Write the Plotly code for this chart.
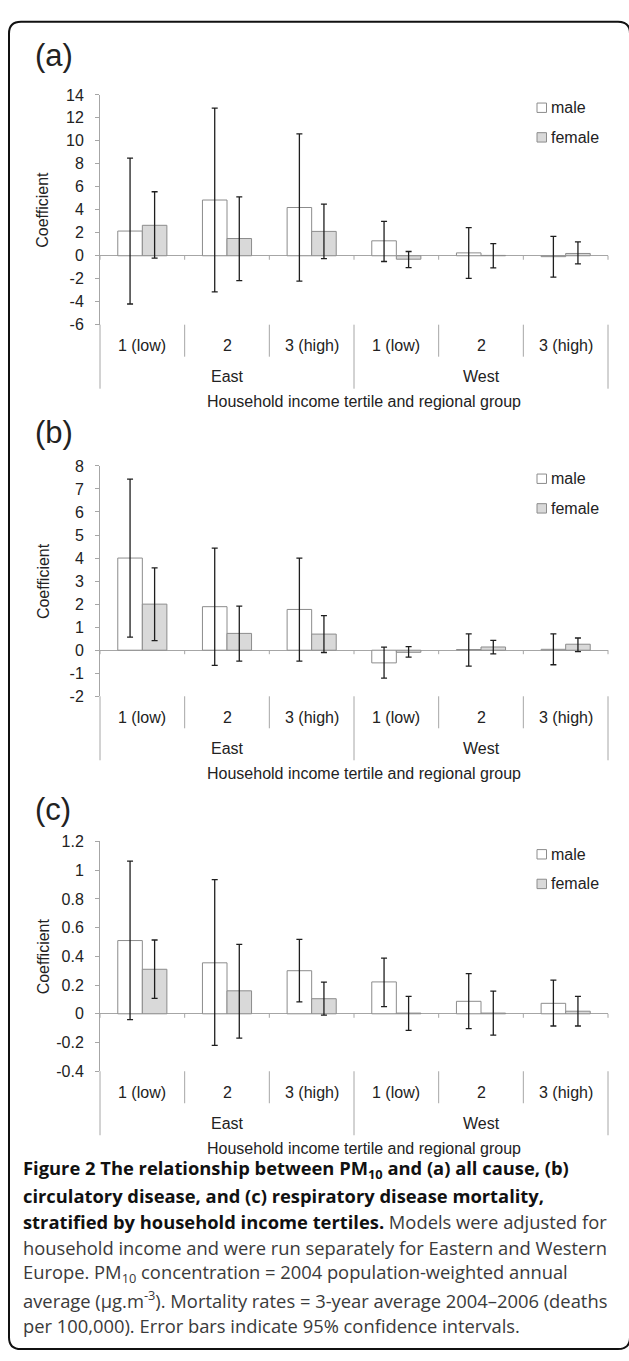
import plotly.graph_objects as go

# ---------------- data ----------------
regions = ["East", "East", "East", "West", "West", "West"]
tertiles = ["1 (low)", "2", "3 (high)", "1 (low)", "2", "3 (high)"]
series_names = ["male", "female"]

# (a) all cause
male_a = [2.15, 4.85, 4.2, 1.3, 0.25, -0.08]
male_a_lo = [-4.2, -3.15, -2.2, -0.5, -1.97, -1.86]
male_a_hi = [8.5, 12.85, 10.6, 3.0, 2.45, 1.68]
female_a = [2.65, 1.5, 2.12, -0.3, 0.03, 0.2]
female_a_lo = [-0.2, -2.17, -0.25, -1.03, -1.06, -0.71]
female_a_hi = [5.57, 5.13, 4.5, 0.37, 1.06, 1.2]

# (b) circulatory disease
male_b = [4.0, 1.89, 1.77, -0.55, 0.03, 0.04]
male_b_lo = [0.57, -0.66, -0.47, -1.21, -0.69, -0.63]
male_b_hi = [7.43, 4.43, 4.0, 0.13, 0.71, 0.71]
female_b = [2.0, 0.73, 0.7, -0.09, 0.14, 0.26]
female_b_lo = [0.42, -0.47, -0.1, -0.3, -0.16, -0.06]
female_b_hi = [3.57, 1.91, 1.5, 0.16, 0.43, 0.53]

# (c) respiratory disease
male_c = [0.51, 0.355, 0.30, 0.222, 0.087, 0.073]
male_c_lo = [-0.04, -0.22, 0.083, 0.05, -0.103, -0.085]
male_c_hi = [1.063, 0.934, 0.518, 0.387, 0.28, 0.234]
female_c = [0.31, 0.16, 0.105, 0.005, 0.005, 0.018]
female_c_lo = [0.108, -0.17, -0.009, -0.115, -0.149, -0.085]
female_c_hi = [0.514, 0.484, 0.22, 0.122, 0.158, 0.122]

# y tick labels
ticks_a = [-6, -4, -2, 0, 2, 4, 6, 8, 10, 12, 14]
ticktext_a = ["-6", "-4", "-2", "0", "2", "4", "6", "8", "10", "12", "14"]
ticks_b = [-2, -1, 0, 1, 2, 3, 4, 5, 6, 7, 8]
ticktext_b = ["-2", "-1", "0", "1", "2", "3", "4", "5", "6", "7", "8"]
ticks_c = [-0.4, -0.2, 0, 0.2, 0.4, 0.6, 0.8, 1.0, 1.2]
ticktext_c = ["-0.4", "-0.2", "0", "0.2", "0.4", "0.6", "0.8", "1", "1.2"]

panel_labels = ["(a)", "(b)", "(c)"]
y_title = "Coefficient"
x_title = "Household income tertile and regional group"

B = "<span style='color:#111111'><b>"
EB = "</b></span>"
caption_lines = [
    B + "Figure 2 The relationship between PM<sub>10</sub> and (a) all cause, (b)" + EB,
    B + "circulatory disease, and (c) respiratory disease mortality," + EB,
    B + "stratified by household income tertiles." + EB + " Models were adjusted for",
    "household income and were run separately for Eastern and Western",
    "Europe. PM<sub>10</sub> concentration = 2004 population-weighted annual",
    "average (µg.m<sup>-3</sup>). Mortality rates = 3-year average 2004–2006 (deaths",
    "per 100,000). Error bars indicate 95% confidence intervals.",
]

# ---------------- layout constants (pixels) ----------------
W, H = 629, 1361
PLOT_L, PLOT_R = 100, 608
PANELS = [  # (top px, bottom px, label center y px)
    (88.0, 320.7, 48),
    (463.7, 697.0, 430),
    (844.0, 1076.7, 812),
]
FONT = "Liberation Sans, Arial, Helvetica, sans-serif"
TXT = "#222222"
AXC = "#a6a6a6"
BAR_LINE = "#8c8c8c"
FEM_FILL = "#d9d9d9"
ERR = "#1e1e1e"


def fx(p):
    return p / W


def fy(p):
    return 1 - p / H


cats = [f"{r} {t}" for r, t in zip(regions, tertiles)]

panel_data = [
    (male_a, male_a_lo, male_a_hi, female_a, female_a_lo, female_a_hi, ticks_a, ticktext_a),
    (male_b, male_b_lo, male_b_hi, female_b, female_b_lo, female_b_hi, ticks_b, ticktext_b),
    (male_c, male_c_lo, male_c_hi, female_c, female_c_lo, female_c_hi, ticks_c, ticktext_c),
]

fig = go.Figure()
shapes = []
annotations = []
layout_axes = {}

for i, (pd_, (top, bot, lab_y)) in enumerate(zip(panel_data, PANELS)):
    m, mlo, mhi, f, flo, fhi, tv, tt = pd_
    s = "" if i == 0 else str(i + 1)
    xa, ya = "x" + s, "y" + s
    ymin, ymax = tv[0], tv[-1]

    for name, vals, lo, hi, fill in [
        (series_names[0], m, mlo, mhi, "white"),
        (series_names[1], f, flo, fhi, FEM_FILL),
    ]:
        fig.add_trace(go.Bar(
            x=cats, y=vals, name=name, xaxis=xa, yaxis=ya, showlegend=False,
            marker=dict(color=fill, line=dict(color=BAR_LINE, width=1)),
            error_y=dict(type="data", symmetric=False,
                         array=[h - v for h, v in zip(hi, vals)],
                         arrayminus=[v - l for v, l in zip(vals, lo)],
                         color=ERR, thickness=1.3, width=3),
        ))

    layout_axes["xaxis" + s] = dict(
        domain=[fx(PLOT_L), fx(PLOT_R)], anchor=ya, type="category",
        categoryorder="array", categoryarray=cats, range=[-0.5, len(cats) - 0.5],
        showticklabels=False, showline=False, showgrid=False, zeroline=False, ticks="",
    )
    layout_axes["yaxis" + s] = dict(
        domain=[fy(bot), fy(top)], anchor=xa, range=[ymin, ymax],
        tickvals=tv, ticktext=tt, showline=True, linecolor=AXC, linewidth=1,
        ticks="outside", ticklen=4, tickcolor=AXC, tickwidth=1,
        ticklabelstandoff=8,
        showgrid=False, zeroline=True, zerolinecolor=AXC, zerolinewidth=1,
        tickfont=dict(family=FONT, size=16, color=TXT),
    )

    # boundary ticks on the zero line and dividers below the plot (domain refs)
    n = len(cats)
    zero_frac = (0 - ymin) / (ymax - ymin)
    for b in range(n + 1):
        xb = b / n
        shapes.append(dict(type="line", xref=xa + " domain", yref=ya + " domain",
                           x0=xb, x1=xb, ysizemode="pixel", yanchor=zero_frac,
                           y0=0, y1=-4, line=dict(color=AXC, width=1)))
        outer = b == 0 or b == n or regions[b - 1] != regions[b]
        shapes.append(dict(type="line", xref=xa + " domain", yref=ya + " domain",
                           x0=xb, x1=xb, ysizemode="pixel", yanchor=0, y0=0,
                           y1=-64 if outer else -32,
                           line=dict(color=AXC, width=1)))

    # tertile labels
    for c, t in zip(cats, tertiles):
        annotations.append(dict(xref=xa, yref=ya, x=c, y=ymin, yshift=-21,
                                text=t, showarrow=False, yanchor="middle",
                                font=dict(family=FONT, size=16, color=TXT)))
    # region labels
    seen = []
    for r in regions:
        if r not in seen:
            seen.append(r)
    for r in seen:
        idx = [k for k, rr in enumerate(regions) if rr == r]
        annotations.append(dict(xref=xa, yref=ya, x=sum(idx) / len(idx), y=ymin,
                                yshift=-52, text=r, showarrow=False, yanchor="middle",
                                font=dict(family=FONT, size=16, color=TXT)))
    # x title
    annotations.append(dict(xref="paper", yref=ya, x=fx(364), y=ymin, yshift=-77,
                            text=x_title, showarrow=False, yanchor="middle",
                            font=dict(family=FONT, size=16, color=TXT)))
    # y title
    annotations.append(dict(xref="paper", yref=ya + " domain", x=fx(43), y=0.5,
                            text=y_title, textangle=-90, showarrow=False,
                            xanchor="center", yanchor="middle",
                            font=dict(family=FONT, size=16, color=TXT)))
    # panel label
    annotations.append(dict(xref="paper", yref="paper", x=fx(33), y=fy(lab_y),
                            text=panel_labels[i], showarrow=False,
                            xanchor="left", yanchor="middle",
                            font=dict(family=FONT, size=31, color=TXT)))
    # legend (drawn manually)
    for k, (name, fill) in enumerate([(series_names[0], "white"), (series_names[1], FEM_FILL)]):
        cy = top + 13 + 30 * k
        shapes.append(dict(type="rect", xref="paper", yref="paper",
                           x0=fx(537), x1=fx(546.5), y0=fy(cy + 4.75), y1=fy(cy - 4.75),
                           fillcolor=fill, line=dict(color=BAR_LINE, width=1)))
        annotations.append(dict(xref="paper", yref="paper", x=fx(549), y=fy(cy),
                                text=name, showarrow=False, xanchor="left",
                                yanchor="middle",
                                font=dict(family=FONT, size=16, color=TXT)))

# caption
cap_y = [1176, 1202.3, 1228.6, 1254.9, 1281.2, 1307.5, 1333.8]
for line, yy in zip(caption_lines, cap_y):
    annotations.append(dict(xref="paper", yref="paper", x=fx(21), y=fy(yy),
                            text=line, showarrow=False, xanchor="left", yanchor="middle",
                            font=dict(family="Open Sans, sans-serif", size=18.35,
                                      color="#3a3a3a")))

# rounded border
bx0, bx1, by0, by1, r = 9, 630, 14, 1358, 12
rx, ry = r / W, r / H
X0, X1, Y0, Y1 = fx(bx0), fx(bx1), fy(by0), fy(by1)
path = (f"M {X0 + rx},{Y0} L {X1 - rx},{Y0} Q {X1},{Y0} {X1},{Y0 - ry} "
        f"L {X1},{Y1 + ry} Q {X1},{Y1} {X1 - rx},{Y1} "
        f"L {X0 + rx},{Y1} Q {X0},{Y1} {X0},{Y1 + ry} "
        f"L {X0},{Y0 - ry} Q {X0},{Y0} {X0 + rx},{Y0} Z")
shapes.append(dict(type="path", xref="paper", yref="paper", path=path,
                   line=dict(color="#111111", width=2)))

fig.update_layout(
    width=W, height=H, margin=dict(l=0, r=0, t=0, b=0),
    paper_bgcolor="white", plot_bgcolor="white",
    barmode="group", bargap=0.42, bargroupgap=0,
    showlegend=False, shapes=shapes, annotations=annotations,
    **layout_axes,
)

fig.write_html("out.html", config={"displayModeBar": False},
               post_script="document.body.style.margin='0px';")
